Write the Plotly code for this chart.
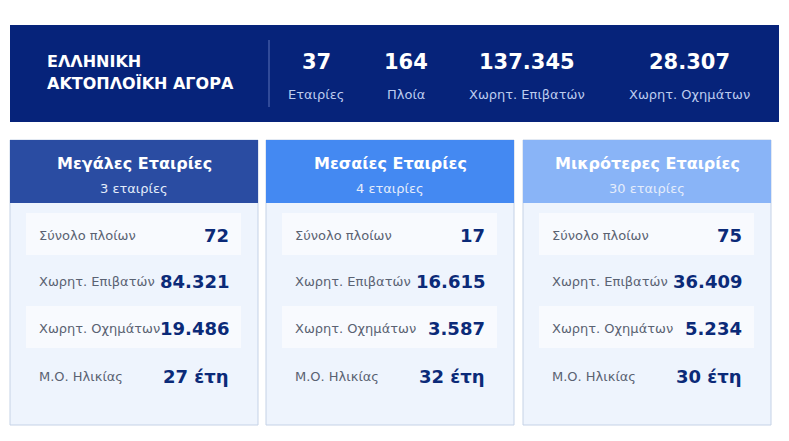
import plotly.graph_objects as go

title_lines = ["ΕΛΛΗΝΙΚΗ", "ΑΚΤΟΠΛΟΪΚΗ ΑΓΟΡΑ"]
stat_values = ["37", "164", "137.345", "28.307"]
stat_labels = ["Εταιρίες", "Πλοία", "Χωρητ. Επιβατών", "Χωρητ. Οχημάτων"]
stat_x = [316, 406, 527, 689]

groups = ["Μεγάλες Εταιρίες", "Μεσαίες Εταιρίες", "Μικρότερες Εταιρίες"]
group_counts = ["3 εταιρίες", "4 εταιρίες", "30 εταιρίες"]
row_labels = ["Σύνολο πλοίων", "Χωρητ. Επιβατών", "Χωρητ. Οχημάτων", "Μ.Ο. Ηλικίας"]
group_values = [
    ["72", "84.321", "19.486", "27 έτη"],
    ["17", "16.615", "3.587", "32 έτη"],
    ["75", "36.409", "5.234", "30 έτη"],
]
header_colors = ["#2a4ca2", "#4489f2", "#89b4f7"]
card_x = [10, 266, 523]
card_w = 248

F = "DejaVu Sans"
shapes, ann = [], []

def rect(x0, y0, x1, y1, fill, line=None):
    shapes.append(dict(type="rect", xref="x", yref="y", x0=x0, y0=y0, x1=x1, y1=y1,
                       fillcolor=fill, line=dict(color=line or fill, width=1 if line else 0), layer="below"))

def txt(x, y, s, size, color, bold=False, anchor="center"):
    ann.append(dict(x=x, y=y, xref="x", yref="y", text=f"<b>{s}</b>" if bold else s, showarrow=False,
                    xanchor=anchor, yanchor="middle", font=dict(family=F, size=size, color=color)))

rect(10, 25, 779, 122, "#06237a")
shapes.append(dict(type="line", x0=269, x1=269, y0=40, y1=107, line=dict(color="#5a73b8", width=1)))
txt(45, 61, title_lines[0], 16, "white", True, "left")
txt(45, 83, title_lines[1], 16, "white", True, "left")
for x, v, l in zip(stat_x, stat_values, stat_labels):
    txt(x, 62, v, 21, "white", True)
    txt(x, 94, l, 13, "#bccbee")

row_y = [235, 281, 328, 376]
for i, cx in enumerate(card_x):
    rect(cx, 140, cx + card_w, 425, "#eef4fd", "#c5d2e6")
    rect(cx, 140, cx + card_w, 203, header_colors[i])
    txt(cx + card_w / 2, 163, groups[i], 16, "white", True)
    txt(cx + card_w / 2, 188, group_counts[i], 13, "#e4ecfb")
    for j, (lab, val) in enumerate(zip(row_labels, group_values[i])):
        if j % 2 == 0:
            rect(cx + 16, row_y[j] - 22, cx + 231, row_y[j] + 20, "#f8fafe")
        txt(cx + 27, row_y[j], lab, 13, "#5a6272", False, "left")
        txt(cx + 221, row_y[j], val, 18, "#0b2a78", True, "right")

fig = go.Figure()
fig.update_layout(width=773, height=425, margin=dict(l=0, r=0, t=0, b=0),
                  paper_bgcolor="white", plot_bgcolor="white", shapes=shapes, annotations=ann,
                  xaxis=dict(range=[8, 781], visible=False, fixedrange=True),
                  yaxis=dict(range=[433, 8], visible=False, fixedrange=True), showlegend=False)
fig.write_html("out.html", config={"displayModeBar": False})
